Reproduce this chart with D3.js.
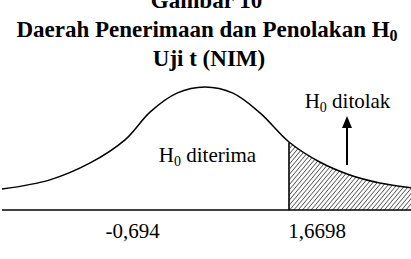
<!DOCTYPE html>
<html>
<head>
<meta charset="utf-8">
<script src="https://cdn.jsdelivr.net/npm/d3@7"></script>
<style>
  body { margin: 0; background: #fff; }
  text { font-family: "Liberation Serif", "Times New Roman", Times, serif; }
</style>
</head>
<body>
<script>
// curve (t units, relative density)
var curveX = [-3.0, -2.30, -1.71, -1.20, -0.83, -0.44, -0.03, 0.38, 0.78, 1.20, 1.65, 2.09, 2.53, 3.0];
var curveY = [0.068, 0.098, 0.153, 0.228, 0.319, 0.380, 0.400, 0.380, 0.315, 0.221, 0.156, 0.114, 0.088, 0.072];
var critX = 1.20;
var tickLabels = ["-0,694", "1,6698"];
var tickPos = [-1.09, 1.61];
var titleLines = ["Gambar 10", "Daerah Penerimaan dan Penolakan H", "Uji t (NIM)"];

var width = 411, height = 259;
var svg = d3.select(document.body).append("svg").attr("width", width).attr("height", height);

var x = d3.scaleLinear().domain([-3, 3]).range([2, 412]);
var y = d3.scaleLinear().domain([0, 0.4]).range([210, 87]);

var pts = curveX.map(function(d, i) { return {x: d, y: curveY[i]}; });

// hatch pattern
var defs = svg.append("defs");
var pat = defs.append("pattern")
  .attr("id", "hatch")
  .attr("patternUnits", "userSpaceOnUse")
  .attr("width", 3.3).attr("height", 10)
  .attr("patternTransform", "rotate(40)");
pat.append("line")
  .attr("x1", 0).attr("y1", 0).attr("x2", 0).attr("y2", 10)
  .attr("stroke", "#000").attr("stroke-width", 1.1);

var line = d3.line()
  .x(function(d) { return x(d.x); })
  .y(function(d) { return y(d.y); })
  .curve(d3.curveCatmullRom);

// sample the smoothed curve so the shaded tail follows it
var pathEl = svg.append("path").attr("d", line(pts)).attr("fill", "none").attr("stroke", "none");
var node = pathEl.node(), len = node.getTotalLength();
var tail = [];
for (var s = 0; s <= len; s += 1) {
  var p = node.getPointAtLength(s);
  if (p.x >= x(critX)) tail.push([p.x, p.y]);
}
var last = node.getPointAtLength(len);
tail.push([last.x, last.y]);
var critY = tail[0][1];
tail.unshift([x(critX), y(0)]);
tail.push([last.x, y(0)]);

svg.append("path")
  .attr("d", d3.line()(tail) + "Z")
  .attr("fill", "url(#hatch)")
  .attr("stroke", "none");

// main curve
svg.append("path")
  .attr("d", line(pts))
  .attr("fill", "none")
  .attr("stroke", "#000")
  .attr("stroke-width", 1.5);

// baseline
svg.append("line")
  .attr("x1", x(-3)).attr("x2", width)
  .attr("y1", y(0)).attr("y2", y(0))
  .attr("stroke", "#000").attr("stroke-width", 1.6);

// critical value line
svg.append("line")
  .attr("x1", x(critX)).attr("x2", x(critX))
  .attr("y1", y(0)).attr("y2", critY)
  .attr("stroke", "#000").attr("stroke-width", 1.6);

// arrow
var ax = 347;
svg.append("line")
  .attr("x1", ax).attr("x2", ax).attr("y1", 165).attr("y2", 125)
  .attr("stroke", "#000").attr("stroke-width", 2);
svg.append("path")
  .attr("d", "M" + ax + ",116L" + (ax - 5) + ",128L" + (ax + 5) + ",128Z")
  .attr("fill", "#000");

// tick labels
svg.selectAll(".tick-label")
  .data(tickLabels)
  .enter().append("text")
  .attr("class", "tick-label")
  .attr("x", function(d, i) { return x(tickPos[i]); })
  .attr("y", 238)
  .attr("text-anchor", "middle")
  .attr("font-size", 21)
  .text(function(d) { return d; });

// region labels
function hLabel(txt, cx, by) {
  var t = svg.append("text").attr("x", cx).attr("y", by).attr("font-size", 21).attr("text-anchor", "middle");
  t.append("tspan").text("H");
  t.append("tspan").attr("font-size", 14).attr("dy", 4).text("0");
  t.append("tspan").attr("dy", -4).text(" " + txt);
}
hLabel("diterima", 207.5, 162);
hLabel("ditolak", 347.5, 108);

// title
svg.append("text").attr("x", 206.5).attr("y", 8).attr("text-anchor", "middle")
  .attr("font-size", 23).attr("font-weight", "bold").text(titleLines[0]);
var t2 = svg.append("text").attr("x", 207).attr("y", 37).attr("text-anchor", "middle")
  .attr("font-size", 23).attr("font-weight", "bold");
t2.append("tspan").text(titleLines[1]);
t2.append("tspan").attr("font-size", 16).attr("dy", 4).text("0");
svg.append("text").attr("x", 209).attr("y", 66).attr("text-anchor", "middle")
  .attr("font-size", 23).attr("font-weight", "bold").text(titleLines[2]);
</script>
</body>
</html>
